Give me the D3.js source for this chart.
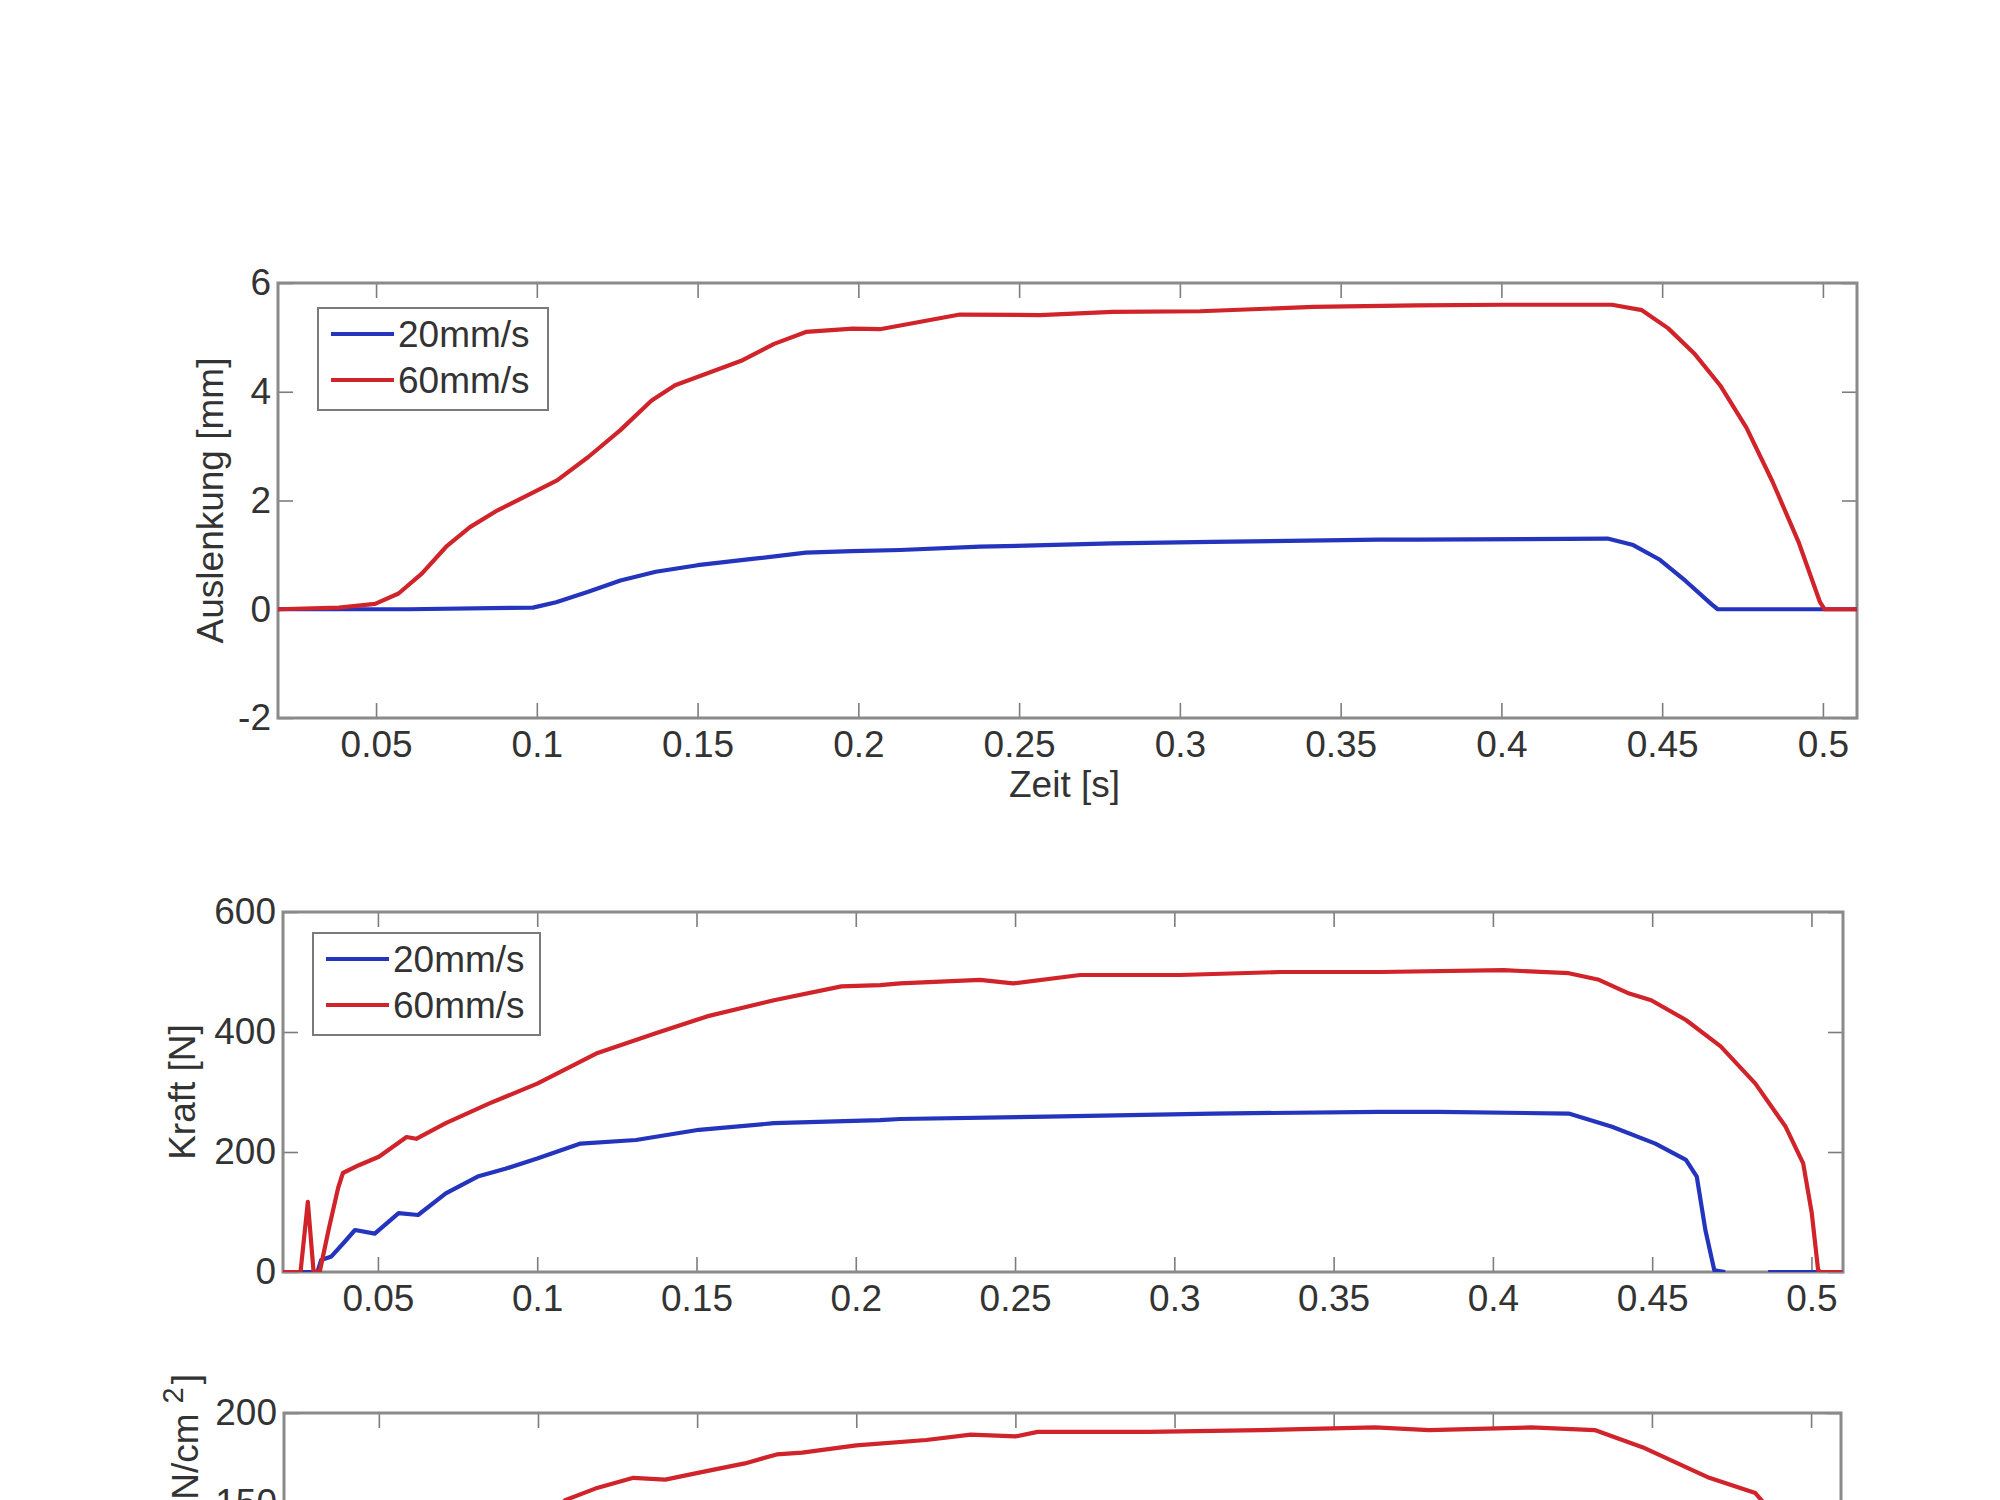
<!DOCTYPE html>
<html>
<head>
<meta charset="utf-8">
<script src="https://cdn.jsdelivr.net/npm/d3@7"></script>
<style>
    body {
        margin: 0px;
        padding: 0px;
        background: #fff;
    }

    svg {
        display: block;
        font-family: "Liberation Sans", Arial, sans-serif;
    }

    .tick text {
        fill: #333;
        font-size: 37px;
    }

    .tick line {
        stroke: #7d7d7d;
        stroke-width: 1.6;
    }

    .frame {
        fill: none;
        stroke: #8a8a8a;
        stroke-width: 3;
    }

    .lbl {
        fill: #333;
        font-size: 37px;
    }

    .legend rect {
        fill: #fff;
        stroke: #7a7a7a;
        stroke-width: 2;
    }
</style>
<title>Auslenkung / Kraft</title>
</head>

<body>
<svg id="chart" width="2000" height="1500"></svg>

<script>
    // ---- data ----
    var zeitTicks = [0.05, 0.1, 0.15, 0.2, 0.25, 0.3, 0.35, 0.4, 0.45, 0.5];
    var seriesNames = ["20mm/s", "60mm/s"];

    // panel 1: Auslenkung [mm] over Zeit [s]
    var auslenkungTicks = [-2, 0, 2, 4, 6];
    var auslenkung20 = [
        [0.0195, 0], [0.06, 0], [0.0988, 0.03], [0.106, 0.13], [0.116, 0.32], [0.126, 0.53],
        [0.137, 0.69], [0.15, 0.81], [0.1677, 0.93], [0.1837, 1.04], [0.198, 1.07], [0.213, 1.09],
        [0.2378, 1.15], [0.279, 1.21], [0.31, 1.24], [0.362, 1.28], [0.3737, 1.28], [0.433, 1.3],
        [0.441, 1.18], [0.4493, 0.91], [0.4573, 0.52], [0.4654, 0.09], [0.4673, 0], [0.5106, 0]
    ];
    var auslenkung60 = [
        [0.0195, 0], [0.0385, 0.03], [0.0497, 0.1], [0.057, 0.29], [0.0643, 0.66], [0.0718, 1.15],
        [0.0792, 1.51], [0.0878, 1.82], [0.0963, 2.07], [0.1063, 2.37], [0.116, 2.8], [0.1259, 3.29],
        [0.1357, 3.84], [0.143, 4.12], [0.1554, 4.39], [0.164, 4.58], [0.1738, 4.88], [0.1837, 5.1],
        [0.1983, 5.16], [0.2067, 5.15], [0.2316, 5.42], [0.2565, 5.41], [0.279, 5.47], [0.3063, 5.48],
        [0.3414, 5.56], [0.3737, 5.59], [0.4007, 5.6], [0.4344, 5.6], [0.4437, 5.5], [0.4518, 5.17],
        [0.4599, 4.71], [0.468, 4.12], [0.4762, 3.34], [0.4843, 2.35], [0.4924, 1.24], [0.4991, 0.13],
        [0.5005, 0], [0.5106, 0]
    ];

    // panel 2: Kraft [N] (null = no sample drawn)
    var kraftTicks = [0, 200, 400, 600];
    var kraft20 = [
        [0.0202, 0], [0.031, 0], [0.0322, 20], [0.0354, 26], [0.0395, 50], [0.0428, 70], [0.049, 64],
        [0.0565, 98], [0.0626, 95], [0.0713, 131], [0.0813, 159], [0.09, 172], [0.1, 189],
        [0.1136, 214], [0.131, 220], [0.1508, 237], [0.1743, 248], [0.2076, 253], [0.2139, 255],
        [0.26, 259], [0.3122, 264], [0.3646, 267], [0.383, 267], [0.4238, 264], [0.4374, 242],
        [0.451, 214], [0.4606, 187], [0.464, 159], [0.4667, 70], [0.4695, 3], [0.4729, 0],
        [0.4745, null], [0.4864, 0], [0.5097, 0]
    ];
    var kraft60 = [
        [0.0202, 0], [0.0257, 0], [0.028, 117], [0.0298, 0], [0.0318, 2], [0.0345, 70],
        [0.0375, 140], [0.039, 165], [0.044, 178], [0.0503, 192], [0.059, 225], [0.062, 222],
        [0.0713, 248], [0.085, 281], [0.1, 314], [0.1185, 364], [0.1372, 398], [0.1533, 426],
        [0.1743, 453], [0.1955, 476], [0.2076, 478], [0.2139, 481], [0.239, 487], [0.2494, 481],
        [0.2704, 495], [0.3018, 495], [0.3332, 500], [0.3646, 500], [0.4034, 503], [0.4238, 498],
        [0.4333, 487], [0.4428, 464], [0.4497, 453], [0.4606, 420], [0.4715, 376], [0.4824, 314],
        [0.4919, 242], [0.4974, 181], [0.5001, 98], [0.5021, 3], [0.5028, 0], [0.5097, 0]
    ];

    // panel 3: pressure [N/cm^2], only the upper part is inside the picture
    var druckTicks = [0, 50, 100, 150, 200];
    var druck60 = [
        [0.098, 135], [0.1087, 151.7], [0.118, 158], [0.13, 164], [0.14, 163], [0.151, 167],
        [0.165, 172], [0.175, 177], [0.183, 178], [0.2, 182], [0.222, 185], [0.236, 188],
        [0.25, 187], [0.257, 189.5], [0.292, 189.5], [0.327, 190.5], [0.363, 192], [0.38, 190.5],
        [0.412, 192], [0.432, 190.5], [0.447, 181], [0.468, 164], [0.4825, 155.5], [0.49, 140]
    ];

    // ---- layout ----
    var colors = {"20mm/s": "#2434bd", "60mm/s": "#d0232a"};
    var svg = d3.select("#chart");
    var pictureBottom = 1500;

    var panels = [
        {
            id: "p1", left: 278, right: 1857, top: 283, bottom: 718,
            xDomain: [0.0195, 0.5106], yDomain: [-2, 6], yTicks: auslenkungTicks,
            lines: [["20mm/s", auslenkung20], ["60mm/s", auslenkung60]],
            yLabel: "Auslenkung [mm]", yLabelX: 223, xLabel: "Zeit [s]",
            legend: {x: 318, y: 308, w: 230, h: 102}
        },
        {
            id: "p2", left: 283, right: 1843, top: 912, bottom: 1272,
            xDomain: [0.0202, 0.5099], yDomain: [0, 600], yTicks: kraftTicks,
            lines: [["20mm/s", kraft20], ["60mm/s", kraft60]],
            yLabel: "Kraft [N]", yLabelX: 195,
            legend: {x: 313, y: 933, w: 227, h: 102}
        },
        {
            id: "p3", left: 284, right: 1841, top: 1413, bottom: 1773,
            xDomain: [0.0202, 0.5094], yDomain: [0, 200], yTicks: druckTicks,
            lines: [["60mm/s", druck60]],
            yLabelX: 198
        }
    ];

    panels.forEach(function (p) {
        var x = d3.scaleLinear().domain(p.xDomain).range([p.left, p.right]);
        var y = d3.scaleLinear().domain(p.yDomain).range([p.bottom, p.top]);
        var g = svg.append("g");

        // clip the curves to the axes box
        svg.append("clipPath").attr("id", "clip-" + p.id)
            .append("rect")
            .attr("x", p.left).attr("y", p.top)
            .attr("width", p.right - p.left).attr("height", p.bottom - p.top);

        var tick = 15;
        var cut = p.bottom > pictureBottom;   // bottom of this panel lies outside the picture

        g.append("g").attr("transform", "translate(0," + p.bottom + ")")
            .call(d3.axisBottom(x).tickValues(zeitTicks).tickSize(-tick).tickPadding(13)
                .tickFormat(function (d) { return cut ? "" : String(d); }));
        g.append("g").attr("transform", "translate(0," + p.top + ")")
            .call(d3.axisTop(x).tickValues(zeitTicks).tickSize(-tick).tickFormat(""));
        g.append("g").attr("transform", "translate(" + p.left + ",0)")
            .call(d3.axisLeft(y).tickValues(p.yTicks).tickSize(-tick).tickPadding(7)
                .tickFormat(function (d) { return y(d) > pictureBottom + 20 ? "" : String(d); }));
        g.append("g").attr("transform", "translate(" + p.right + ",0)")
            .call(d3.axisRight(y).tickValues(p.yTicks).tickSize(-tick).tickFormat(""));

        g.selectAll(".domain").remove();
        g.selectAll(".tick text").attr("font-size", null).attr("font-family", null);

        g.append("rect").attr("class", "frame")
            .attr("x", p.left).attr("y", p.top)
            .attr("width", p.right - p.left).attr("height", p.bottom - p.top);

        var line = d3.line()
            .defined(function (d) { return d[1] !== null; })
            .x(function (d) { return x(d[0]); })
            .y(function (d) { return y(d[1]); });

        var curves = g.append("g").attr("clip-path", "url(#clip-" + p.id + ")");
        p.lines.forEach(function (s) {
            curves.append("path")
                .attr("d", line(s[1]))
                .attr("fill", "none")
                .attr("stroke", colors[s[0]])
                .attr("stroke-width", 4.2)
                .attr("stroke-linejoin", "round");
        });

        // axis labels
        var cy = (p.top + p.bottom) / 2;
        if (p.yLabel) {
            g.append("text").attr("class", "lbl")
                .attr("transform", "translate(" + p.yLabelX + "," + cy + ") rotate(-90)")
                .attr("text-anchor", "middle")
                .text(p.yLabel);
        } else {
            // label of the cut-off panel, only its end shows
            var t = g.append("text").attr("class", "lbl")
                .attr("transform", "translate(" + p.yLabelX + ",1374) rotate(-90)")
                .attr("text-anchor", "end");
            t.append("tspan").text("Druck N/cm");
            t.append("tspan").attr("dx", 10).attr("dy", -15).attr("font-size", 29).text("2");
            t.append("tspan").attr("dx", 3).attr("dy", 15).text("]");
        }
        if (p.xLabel) {
            g.append("text").attr("class", "lbl")
                .attr("x", (p.left + p.right) / 2 - 3).attr("y", p.bottom + 79)
                .attr("text-anchor", "middle")
                .text(p.xLabel);
        }

        // legend
        if (p.legend) {
            var L = p.legend;
            var lg = g.append("g").attr("class", "legend");
            lg.append("rect").attr("x", L.x).attr("y", L.y).attr("width", L.w).attr("height", L.h);
            seriesNames.forEach(function (name, i) {
                var ry = L.y + 26 + i * 46;
                lg.append("line")
                    .attr("x1", L.x + 13).attr("x2", L.x + 76)
                    .attr("y1", ry).attr("y2", ry)
                    .attr("stroke", colors[name]).attr("stroke-width", 4.2);
                lg.append("text").attr("class", "lbl")
                    .attr("x", L.x + 80).attr("y", ry + 13)
                    .text(name);
            });
        }
    });
</script>
</body>
</html>
